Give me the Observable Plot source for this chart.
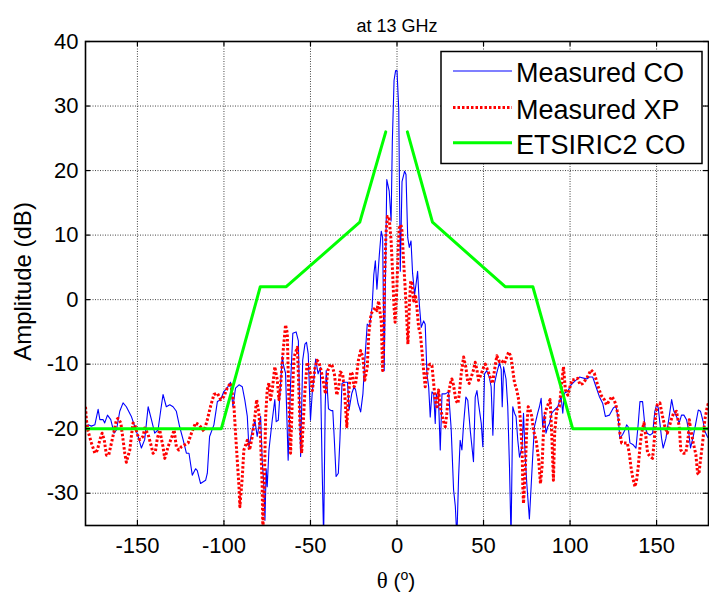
<!DOCTYPE html>
<html><head><meta charset="utf-8">
<script src="https://cdn.jsdelivr.net/npm/d3@7"></script>
<script src="https://cdn.jsdelivr.net/npm/@observablehq/plot@0.6"></script>
<style>
body{margin:0;background:#fff;}
#wrap{position:relative;width:709px;height:597px;font-family:Arial,"Liberation Sans",Helvetica,sans-serif;}
#legend{position:absolute;left:0;top:0;}
</style>
</head><body><div id="wrap"></div>
<script>
// ---- data ----
const thetaCO = [-180,-178.5,-176.6,-174.6,-172.7,-171.7,-169.8,-168.9,-167.3,-165.4,-163.5,-162.1,-160.2,-158.3,-156.4,-153.5,-151.5,-149.6,-147.7,-145.8,-143.8,-141.9,-140,-138.1,-136.5,-135.2,-133.3,-131.3,-129.4,-127.5,-125.6,-123.6,-121.7,-120.2,-118.3,-116.4,-115.4,-113.5,-110.6,-109.6,-108.3,-105.8,-103.8,-101.9,-100,-98.1,-96.2,-94.8,-93.3,-91.3,-89.4,-87.9,-86.5,-85.6,-83.6,-82.1,-80.8,-79.8,-78.8,-77.9,-76.9,-76.3,-75.6,-75,-74,-72.1,-70.6,-69.8,-68.6,-66.3,-65.4,-64.4,-62.9,-61.5,-60.2,-58.3,-57,-55.7,-54.5,-53.2,-52.3,-51.3,-50,-48.9,-47.9,-47,-45.6,-44.3,-43.2,-42.4,-41.5,-40.9,-39.6,-38.1,-37.1,-36.2,-35.2,-33.9,-33,-31.8,-30.5,-28.6,-27.7,-26.1,-24.8,-23.9,-22.5,-21,-19.7,-18.6,-17.2,-15.9,-14.4,-13.4,-12.5,-11.6,-10.2,-9.1,-8.3,-7.4,-5.9,-4.5,-3.4,-2.7,-1.7,-0.8,0,1,1.9,2.9,4.4,5.2,6.2,7.1,8.1,9,10.2,11.2,11.9,12.9,14,15.4,16.3,17.3,18.3,19.2,20.2,21.2,22.1,22.7,24,25,26,27.9,29.8,31.3,32.7,33.7,34.6,35.6,36.5,37.5,38.5,39.8,40.9,42.3,44.2,45.2,46.2,47.1,48.7,49.6,50.6,51.9,53.3,54.4,55.4,56.3,57.7,59.2,60.2,60.8,61.6,63,64,65,65.9,66.9,67.9,68.8,69.8,70.8,72.3,73.1,74,75,76.5,77.5,78.4,79.4,81.3,82.3,83.3,84.2,85.2,86.1,87.1,88.1,89.4,91,92.9,94.8,95.8,96.7,98.7,100.6,102.5,105.4,108.3,109.6,111.2,113.1,115,116.9,118.9,120.4,122.7,125,126.5,127.9,128.8,130.4,131.7,132.7,133.6,134.6,136.5,138.1,139.4,140.4,141.9,143.3,144.6,146.2,147.7,149,150,151,151.9,152.9,153.8,155.4,157.3,158.7,160,161.5,163.1,164.4,165.8,167.3,168.3,169.6,171.2,172.7,174.1,175.4,176.9,177.9,179.3,180];
const ampCO = [-19.8,-19.4,-19.6,-19.4,-17,-18.6,-18.6,-19.1,-17.9,-18.6,-20.7,-20.2,-17.3,-16,-16.6,-18.1,-19.7,-21.2,-23,-21.7,-16.6,-18.6,-20.7,-20.2,-17.1,-14.7,-16.6,-16.3,-16.6,-17.3,-19.7,-21.7,-23.8,-23.8,-27.2,-26.2,-26.5,-28.5,-28,-26.9,-21.2,-19.4,-15.8,-15.5,-14.2,-13.7,-12.8,-16.6,-13.7,-13.2,-13.5,-15.6,-18.1,-22.8,-20.2,-18.7,-21.2,-19.7,-18.1,-24.9,-29,-34.2,-26.2,-29,-23.3,-18.7,-15.5,-18.9,-18.7,-8.8,-10.4,-11.4,-24.9,-13,-5.2,-5,-6.4,-24.3,-9.4,-6.9,-6.6,-8.4,-18.7,-14.1,-12,-9.2,-11.5,-10.5,-26.9,-37,-16.6,-11,-16.9,-17.2,-17.2,-21.8,-27.4,-26.9,-21.8,-13,-12.8,-12.8,-17.1,-14.5,-13.5,-14,-16.1,-17.4,-14.6,-9.4,-3.8,-4.1,-1.2,3.9,6,1.6,7,10.6,9.6,-11,18.6,16.8,12.2,24.5,34,35.5,35.5,29.6,4.4,18.3,19.9,19.4,9.6,8.1,9.1,4.1,0.8,2.8,4.4,-0.7,-4.3,-3.3,-3.8,-11.5,-13.5,-18.2,-14.3,-14.6,-19.2,-14.6,-15.6,-23.3,-14.6,-14.6,-14.3,-20,-29.5,-32,-37,-27.4,-21.8,-23.3,-19.2,-15.1,-15.6,-20.2,-25.1,-15.1,-14.1,-16.1,-19.2,-22.8,-11.5,-11,-12,-13.5,-21,-13,-11.3,-9.8,-10.8,-16.6,-10.4,-12.3,-16.6,-25.9,-37,-16.6,-17.6,-18.1,-21.8,-24.4,-22.8,-17.6,-23.8,-28.5,-34,-29,-24.4,-19.7,-17.6,-16.6,-15.3,-19.7,-17.9,-20.7,-19.7,-19.2,-17.6,-17.1,-16.6,-15,-17.6,-14.5,-14.2,-13.2,-12.7,-12,-12.2,-12.3,-12,-12,-13.5,-15,-16.1,-18.1,-17.9,-16.8,-16.5,-18.6,-21.5,-20.9,-20.2,-19.4,-19.7,-22.2,-22.5,-23,-19.2,-15.8,-15.8,-19.7,-20.7,-21,-20.7,-17.3,-16.3,-16.8,-19.1,-21.5,-23,-21.5,-18.1,-15.5,-17.3,-18.1,-19.1,-17.9,-17.9,-18.6,-19.9,-23,-21.2,-19.1,-17.1,-17.3,-18.9,-20.4,-21.2,-21.5];

const thetaXP = [-180,-179.5,-178.5,-176.6,-174.6,-173.1,-171.7,-170.4,-169.2,-167.9,-166.6,-165,-163.5,-162.1,-161.2,-159.6,-158.3,-157.3,-156.4,-154.4,-153.5,-152.5,-151.5,-150,-148.7,-146.7,-145.8,-143.8,-141.9,-141,-139.6,-138.5,-137.1,-136.2,-135.2,-134.2,-133.3,-132.3,-130.4,-128.8,-127.5,-126.1,-124.6,-122.7,-120.7,-118.8,-116.4,-114.4,-111.5,-109.6,-107.7,-105.8,-103.8,-101.9,-100,-98.1,-96.2,-95.2,-94.2,-93.3,-92.3,-91.3,-90.8,-89.4,-88.5,-86.5,-85.2,-83.6,-82.1,-81.1,-79.8,-78.8,-77.9,-77.5,-76.7,-75.9,-75,-74,-73.1,-72.1,-70.6,-69.2,-68.2,-67.3,-65.9,-64.4,-63.4,-62.5,-61.5,-60.5,-59.6,-58.9,-57.6,-57,-56.1,-55.1,-54.2,-53.2,-51.9,-50.8,-50,-48.9,-47.5,-46.2,-45.1,-43.8,-42.4,-41.3,-40,-38.6,-37.5,-36.2,-34.8,-33.7,-32.8,-31.4,-30.1,-29,-28,-26.7,-25.8,-24.8,-23.9,-22.3,-21,-19.7,-18.6,-17.2,-16.3,-15,-13.8,-12.5,-11.6,-10.6,-9.7,-9.1,-8.3,-7.8,-7.2,-6.4,-5.5,-4.5,-3.4,-2.5,-1.7,-1.1,-0.2,0.6,1.3,2.3,2.9,3.8,4.8,5.8,6.3,7.1,7.9,8.7,9.6,10.6,11.5,12.5,13.5,14.4,15.4,16.3,17.3,18.3,19.2,20.2,21.2,22.1,23.1,24,25,26,26.9,27.9,28.8,29.8,30.8,31.7,32.7,34,35.2,36,37.1,38.5,39.8,40.9,41.7,42.9,44.2,45.2,46.2,47.1,48.7,50,51,52.5,53.8,55.2,56.3,57.7,59.2,60.2,62.1,63.4,64.6,65.9,66.9,67.9,69.2,70.3,71.3,72.3,72.7,73.1,74.2,75,75.8,76.9,77.9,78.8,80.4,81.9,82.9,83.8,84.6,85.6,86.7,88.5,89.4,90.4,91.1,92.3,93.8,95.4,96.2,97.3,98.7,100,101.2,102.5,104.4,105.8,107.3,109.6,112.1,114,115.9,117.9,119.8,121.1,123.1,124,125.4,126.5,127.9,128.8,129.8,131.7,133.1,134.2,135.2,136.1,137.5,138.5,139.4,140.4,141.3,142.7,143.8,144.8,146.2,147.7,148.7,149.4,150.4,151.9,153.3,154.8,156.2,157.3,158.7,160,161.5,163.1,164,165.4,166.9,168.3,168.9,169.6,171.2,172.7,173.7,174.4,175.4,176.6,177.9,179.3,180];
const ampXP = [-16.6,-18.6,-20.4,-22.2,-23.8,-23.3,-21.7,-20.7,-21.7,-24.1,-24.1,-22.2,-20.4,-18.6,-18.4,-19.1,-21.7,-23.8,-25.2,-23.3,-21.2,-19.1,-19.4,-20.9,-21.7,-21.2,-19.9,-20.9,-22.8,-23.8,-23.5,-21.5,-20.2,-21.5,-22.8,-24.6,-23.8,-22.8,-21.5,-20.2,-22.8,-23.3,-22.8,-22.5,-22.2,-20.7,-19.1,-19.4,-20.4,-18.6,-16.5,-14.7,-14.5,-15.5,-15,-13.7,-12.9,-14.5,-16.6,-20.7,-24.9,-29,-32.1,-27.5,-23.3,-21.8,-23.3,-21.2,-18.1,-15.5,-17.6,-21.8,-29,-36,-29,-18.1,-14,-12.9,-15.5,-14,-10.4,-12.4,-15.5,-13.5,-8.3,-3.9,-5.2,-15.5,-23.8,-15.5,-9,-8.4,-7.4,-11.5,-19.2,-23.8,-19.2,-14.1,-9.7,-10.5,-11.5,-14.1,-10.7,-9.4,-9.7,-11,-13,-14.6,-11,-10,-10.2,-11.5,-14.8,-13.6,-11.2,-11.5,-15.1,-19.7,-14.6,-11.2,-11.5,-13.5,-13,-9.4,-7.9,-8.9,-12.5,-10.5,-5.3,-2.2,-1.7,-1.2,-1.7,-0.2,-2.2,-3.3,-11,-7.9,2.9,10.1,12.9,12.6,9.1,4,-1.2,-3.5,1,7,11.1,11.6,10.6,6,1.4,-3.8,-6.9,-1.2,2.9,2.4,-0.2,0.8,-1.2,-4.3,-5.3,-7.9,-11,-13.5,-11.5,-10.2,-10,-10.2,-13,-15.6,-16.6,-14,-16.6,-17.9,-18.9,-19.7,-17.6,-14.6,-13,-12.3,-13.3,-15.6,-16.1,-14.6,-11.5,-8.9,-10.5,-12.8,-13,-12,-10.9,-9.7,-10.9,-12.5,-11.5,-10.5,-10,-11,-12,-13,-11,-8.7,-9.6,-9.4,-9.9,-8.9,-8.1,-8.9,-10.9,-12.9,-14,-15.5,-18.7,-23.3,-29,-31.6,-26,-19.7,-16.6,-17.1,-18.1,-20.2,-21.8,-24.9,-28.5,-25.9,-20.7,-17.6,-16.6,-15.5,-20.7,-28,-20.7,-17.1,-16.6,-12.4,-10.4,-14,-14.8,-13.5,-12.4,-12.4,-12.2,-13.2,-13,-12.2,-10.9,-11.4,-13.2,-14.8,-15.5,-16.3,-15.5,-15,-15.5,-16.3,-18.1,-20.7,-22.2,-22.2,-22.2,-23.8,-25.9,-27.4,-29,-27.9,-25.9,-22.8,-20.7,-19.1,-21.2,-23.8,-24.3,-24.6,-21.7,-18.1,-16.3,-16,-17.9,-19.7,-20.7,-19.7,-18.4,-17.5,-17.3,-19.7,-23.3,-23.8,-23.8,-21.2,-18.6,-19.9,-22.2,-24,-26.9,-27.1,-24.8,-22.2,-18.6,-16.6,-16];

const thetaMask = [-180,-101.5,-79,-64,-21.5,-6.5, 6,20.5,62.5,78.5,101.5,180];
const ampMask   = [-20,-20,2,2,12,26, 26,12,2,2,-20,-20];
const sideMask  = ["L","L","L","L","L","L","R","R","R","R","R","R"];

const xTicks = [-150,-100,-50,0,50,100,150];
const yTicks = [-30,-20,-10,0,10,20,30,40];
const xDomain = [-180,180];
const yDomain = [-35,40];

const seriesNames = ["Measured CO","Measured XP","ETSIRIC2 CO"];
const seriesColors = ["#0000ff","#ff0000","#00ff00"];

const titleText = "at 13 GHz";
const yLabel = "Amplitude (dB)";

// ---- tables ----
const co = thetaCO.map((t,i)=>({t, a: ampCO[i]}));
const xp = thetaXP.map((t,i)=>({t, a: ampXP[i]}));
const mask = thetaMask.map((t,i)=>({t, a: ampMask[i], s: sideMask[i]}));

const font = 'Arial, "Liberation Sans", Helvetica, sans-serif';
const tickX = 2.9, tickY = 0.78; // inward tick lengths in data units (~5px)

const plot = Plot.plot({
  width: 709, height: 597,
  marginLeft: 85, marginRight: 1, marginTop: 41, marginBottom: 72,
  style: {fontFamily: font, fontSize: "22px", background: "white", color: "black", overflow: "visible"},
  x: {domain: xDomain, ticks: xTicks, tickFormat: d => String(d), tickSize: 0, tickPadding: 12, label: null},
  y: {domain: yDomain, ticks: yTicks, tickFormat: d => String(d), tickSize: 0, tickPadding: 7, label: null},
  marks: [
    Plot.ruleX(xTicks, {stroke: "#444", strokeWidth: 1, strokeDasharray: "1,1.5"}),
    Plot.ruleY(yTicks, {stroke: "#444", strokeWidth: 1, strokeDasharray: "1,1.5"}),
    Plot.line(co, {x: "t", y: "a", stroke: seriesColors[0], strokeWidth: 1.1, clip: true}),
    Plot.line(xp, {x: "t", y: "a", stroke: seriesColors[1], strokeWidth: 3, strokeDasharray: "2.5,2", strokeLinecap: "butt", clip: true}),
    Plot.line(mask, {x: "t", y: "a", z: "s", stroke: seriesColors[2], strokeWidth: 3, clip: true}),
    Plot.ruleX(xTicks, {y1: yDomain[0], y2: yDomain[0] + tickY, stroke: "black", strokeWidth: 1.2}),
    Plot.ruleX(xTicks, {y1: yDomain[1], y2: yDomain[1] - tickY, stroke: "black", strokeWidth: 1.2}),
    Plot.ruleY(yTicks, {x1: xDomain[0], x2: xDomain[0] + tickX, stroke: "black", strokeWidth: 1.2}),
    Plot.ruleY(yTicks, {x1: xDomain[1], x2: xDomain[1] - tickX, stroke: "black", strokeWidth: 1.2}),
    Plot.frame({stroke: "black", strokeWidth: 1.6}),
    Plot.text([titleText], {frameAnchor: "top", dy: -22, fontSize: 18, fill: "black"}),
    Plot.text([yLabel], {frameAnchor: "left", textAnchor: "middle", rotate: -90, dx: -62, dy: -2, fontSize: 24, fill: "black"})
  ]
});

const wrap = document.getElementById("wrap");
wrap.appendChild(plot);

// x-axis label with superscript degree "o"
const svg = d3.select(plot);
const xl = svg.append("text")
  .attr("x", 396).attr("y", 588)
  .attr("text-anchor", "middle")
  .attr("font-family", font)
  .attr("font-size", 21)
  .attr("fill", "black");
xl.append("tspan").attr("font-family", '"Liberation Serif", "DejaVu Serif", serif').attr("font-size", 23).text("θ");
xl.append("tspan").text(" (");
xl.append("tspan").attr("font-size", 14).attr("dy", -8).text("o");
xl.append("tspan").attr("dy", 8).text(")");

// legend
const leg = d3.select(wrap).append("svg")
  .attr("id", "legend")
  .attr("width", 709).attr("height", 597)
  .style("position", "absolute").style("left", "0px").style("top", "0px")
  .style("pointer-events", "none");
leg.append("rect").attr("x", 441).attr("y", 51.5).attr("width", 261).attr("height", 112)
  .attr("fill", "white").attr("stroke", "black").attr("stroke-width", 1.5);
const rowY = [71, 107.5, 142.7];
const dashes = [null, "2.5,2", null];
const widths = [1.1, 3, 3];
seriesNames.forEach((name, i) => {
  leg.append("line").attr("x1", 453).attr("x2", 512).attr("y1", rowY[i]).attr("y2", rowY[i])
    .attr("stroke", seriesColors[i]).attr("stroke-width", widths[i])
    .attr("stroke-dasharray", dashes[i]);
  leg.append("text").attr("x", 516).attr("y", rowY[i] + 11)
    .attr("font-family", font).attr("font-size", 27).attr("fill", "black").text(name);
});
</script></body></html>
